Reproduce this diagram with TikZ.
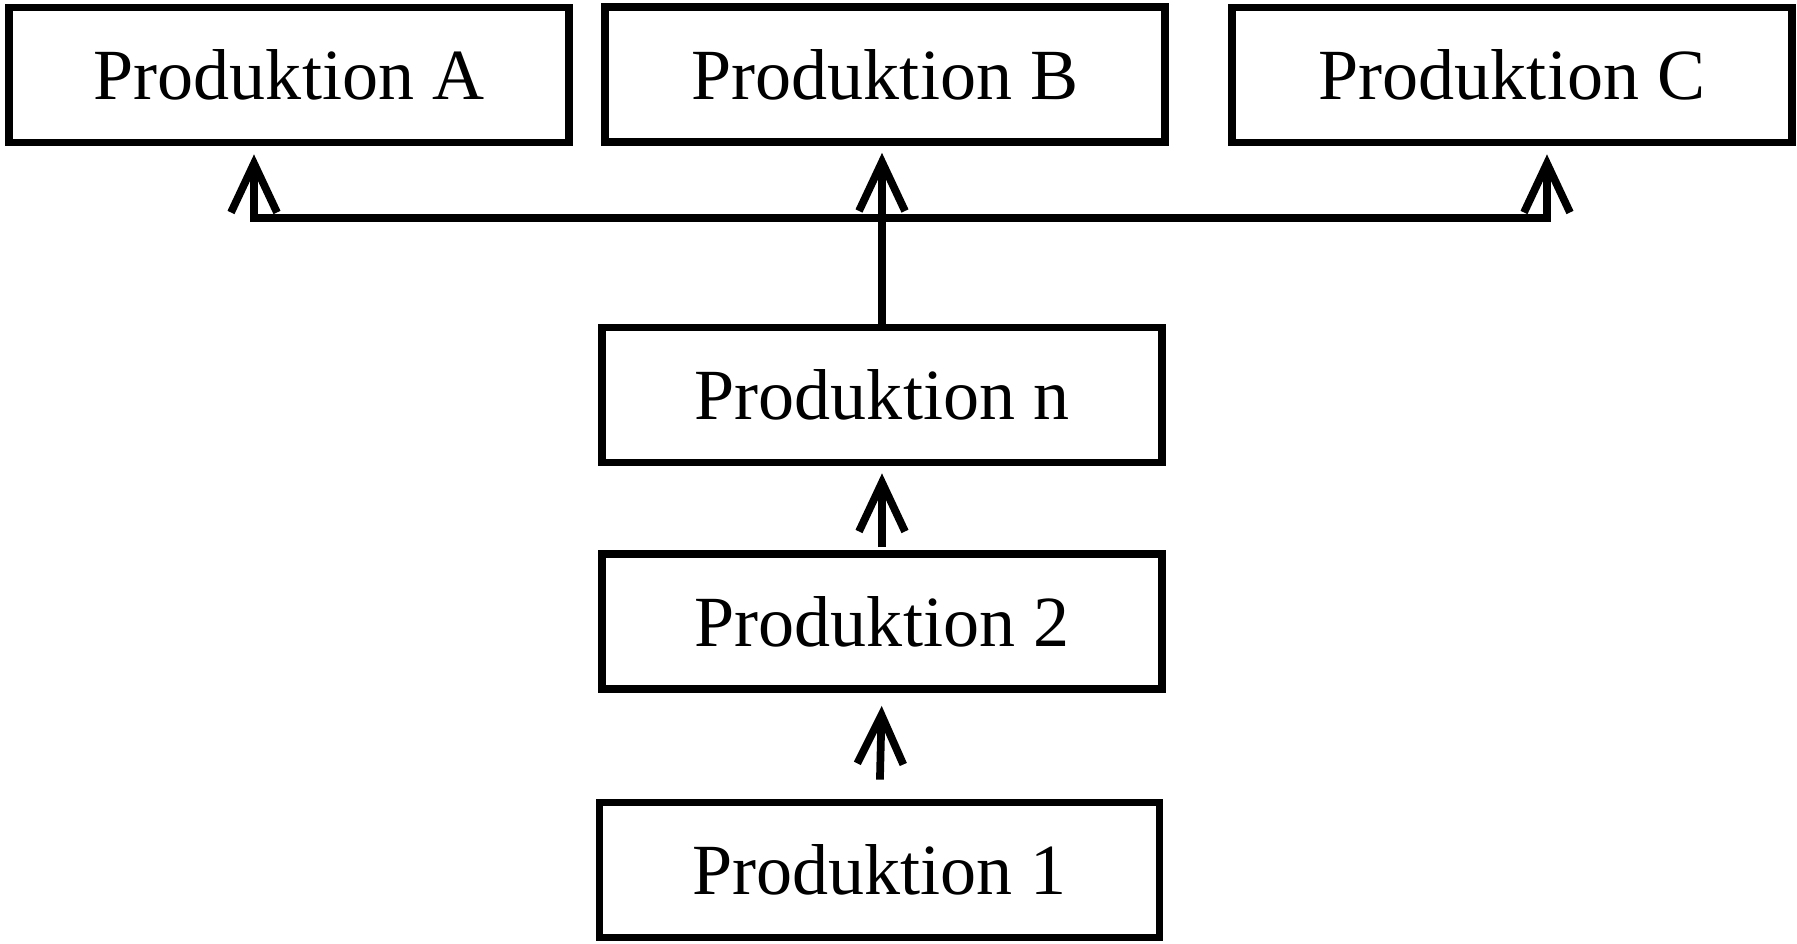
\documentclass[tikz,border=0pt]{standalone}
\usepackage{fontspec}
\setmainfont{Liberation Serif}
\usepackage{tikz}
\usetikzlibrary{arrows.meta}
\usetikzlibrary{positioning}

\begin{document}
\begin{tikzpicture}[line width=2.2pt,
    every node/.style={font=\fontsize{20.5}{24}\selectfont},
    prod/.style={draw, minimum width=5.6cm, minimum height=1.35cm, inner sep=0pt},
    pfeil/.style={-{Straight Barb[length=4.9mm, width=4.6mm]}}]
      \useasboundingbox (0,0) rectangle (17.97,-9.43);

      % Boxen oben
      \node[prod] (pA) at (2.89,-0.75) {Produktion A};
      \node[prod] (pB) at (8.85,-0.745) {Produktion B};
      \node[prod] (pC) at (15.12,-0.75) {Produktion C};

      % Kette unten
      \node[prod] (pn) at (8.82,-3.95) {Produktion n};
      \node[prod] (p2) at (8.82,-6.215) {Produktion 2};
      \node[prod] (p1) at (8.795,-8.70) {Produktion 1};

      % Verteiler
      \coordinate (vA) at (2.54,-2.18);
      \coordinate (vC) at (15.47,-2.18);
      \draw[{Straight Barb[length=4.9mm, width=4.6mm]}-{Straight Barb[length=4.9mm, width=4.6mm]},
            shorten <=0.08cm, shorten >=0.08cm]
            (vA |- pA.south) -- (vA) -- (vC) -- (vC |- pC.south);
      \draw[pfeil, shorten >=0.07cm] (pn.north) -- (pn.north |- pB.south);

      % Pfeile der Kette
      \draw[pfeil, shorten <=0.03cm, shorten >=0.07cm] (p2.north) -- (pn.south);
      \draw[pfeil, shorten <=0.19cm, shorten >=0.13cm] (p1.north) -- (p2.south);
\end{tikzpicture}
\end{document}
